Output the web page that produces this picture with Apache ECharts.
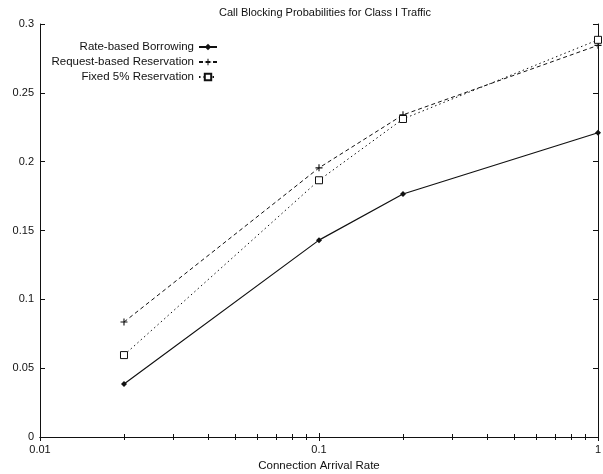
<!DOCTYPE html>
<html>
<head>
<meta charset="utf-8">
<script src="https://cdn.jsdelivr.net/npm/echarts@6/dist/echarts.min.js"></script>
<style>
  html, body { margin: 0; padding: 0; background: #fff; }
  #chart { width: 603px; height: 474px; }
</style>
</head>
<body>
<div id="chart"></div>
<script>
// 到达率（对数坐标）
const rates = [0.02, 0.1, 0.2, 1]
const rateBased = [0.0385, 0.143, 0.1765, 0.221]
const requestBased = [0.0835, 0.1955, 0.234, 0.2845]
const fixed5 = [0.0595, 0.1865, 0.231, 0.2885]
const seriesNames = ['Rate-based Borrowing', 'Request-based Reservation', 'Fixed 5% Reservation']

const font = 'Liberation Sans, Arial, Helvetica, sans-serif'
const pairs = ys => rates.map((x, i) => [x, ys[i]])

const plusPath = 'path://M-0.8,-5H0.8V-0.8H5V0.8H0.8V5H-0.8V0.8H-5V-0.8H-0.8Z'

let myChart = echarts.init(document.getElementById('chart'))

// 每个图例单独右对齐
function legendAt(name, top) {
  return {
    data: [name],
    orient: 'vertical',
    right: 385,
    top: top,
    align: 'right',
    itemWidth: 18,
    itemHeight: 8,
    itemGap: 0,
    padding: 0,
    selectedMode: false,
    textStyle: { fontFamily: font, fontSize: 11.5, color: '#111' }
  }
}

const axisCommon = {
  axisLine: { show: true, lineStyle: { color: '#111', width: 1 } },
  axisTick: { show: true, inside: true, length: 4, lineStyle: { color: '#111' } },
  splitLine: { show: false }
}

myChart.setOption({
  animation: false,
  title: {
    text: 'Call Blocking Probabilities for Class I Traffic',
    left: 320,
    textAlign: 'center',
    top: 2,
    textStyle: { fontFamily: font, fontSize: 11, fontWeight: 'normal', color: '#111' }
  },
  legend: [
    legendAt(seriesNames[0], 41),
    legendAt(seriesNames[1], 56),
    legendAt(seriesNames[2], 71)
  ],
  grid: { left: 40, right: 5, top: 24, bottom: 37, outerBoundsMode: 'none' },
  xAxis: [
    Object.assign({}, axisCommon, {
      type: 'log',
      logBase: 10,
      min: 0.01,
      max: 1,
      position: 'bottom',
      minorTick: { show: true, splitNumber: 9, length: 3, lineStyle: { color: '#111' } },
      axisLabel: { fontFamily: font, fontSize: 11, color: '#111', margin: 7 },
      name: 'Connection Arrival Rate',
      nameLocation: 'middle',
      nameGap: 22,
      nameTextStyle: { fontFamily: font, fontSize: 11.5, color: '#111' }
    }),
    Object.assign({}, axisCommon, {
      type: 'log',
      logBase: 10,
      min: 0.01,
      max: 1,
      position: 'top',
      minorTick: { show: true, splitNumber: 9, length: 3, lineStyle: { color: '#111' } },
      axisLabel: { show: false }
    })
  ],
  yAxis: [
    Object.assign({}, axisCommon, {
      type: 'value',
      min: 0,
      max: 0.3,
      interval: 0.05,
      position: 'left',
      axisTick: { show: true, inside: true, length: 5, lineStyle: { color: '#111' } },
      axisLabel: { fontFamily: font, fontSize: 11, color: '#111', margin: 6 }
    }),
    Object.assign({}, axisCommon, {
      type: 'value',
      min: 0,
      max: 0.3,
      interval: 0.05,
      position: 'right',
      axisTick: { show: true, inside: true, length: 5, lineStyle: { color: '#111' } },
      axisLabel: { show: false }
    })
  ],
  series: [
    {
      name: seriesNames[0],
      type: 'line',
      data: pairs(rateBased),
      symbol: 'diamond',
      symbolSize: 6,
      itemStyle: { color: '#111' },
      lineStyle: { color: '#111', width: 1.2, type: 'solid' }
    },
    {
      name: seriesNames[1],
      type: 'line',
      data: pairs(requestBased),
      symbol: plusPath,
      symbolSize: 7,
      itemStyle: { color: '#111' },
      lineStyle: { color: '#111', width: 1, type: [4, 3] }
    },
    {
      name: seriesNames[2],
      type: 'line',
      data: pairs(fixed5),
      symbol: 'rect',
      symbolSize: 7,
      itemStyle: { color: '#fff', borderColor: '#111', borderWidth: 1 },
      lineStyle: { color: '#111', width: 1, type: [1.5, 3] }
    }
  ]
})
</script>
</body>
</html>
